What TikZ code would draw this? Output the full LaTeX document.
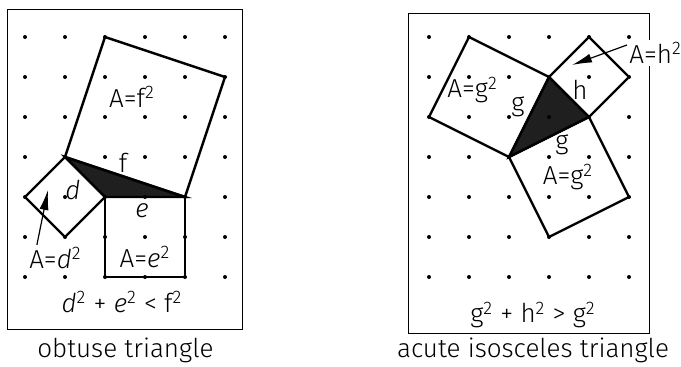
\documentclass[tikz,border=0pt]{standalone}
\usepackage{fontspec}
\setmainfont{Fira Sans Light}
\usetikzlibrary{arrows.meta}
\tikzset{
    panel/.style={
        draw=black,
        line width=0.5pt,
    },
    sqside/.style={
        draw=black,
        line width=1.2pt,
        line join=miter,
    },
    tri/.style={
        fill=black!88,
        draw=black,
        line width=1.2pt,
        line join=miter,
    },
    label/.style={
        text=black,
        font=\fontsize{13}{15}\selectfont,
        inner sep=1pt,
    },
    caption/.style={
        text=black,
        font=\fontsize{13}{15}\selectfont,
    },
    pointer/.style={
        -{Latex[length=10pt,width=4.5pt]},
        line width=0.6pt,
    },
}
\newcommand{\sq}{\textsuperscript{2}}

\begin{document}
\begin{tikzpicture}[x=20pt,y=20pt]
    \useasboundingbox (-0.625,-2.225) rectangle (16.4,6.925);

    % Left panel: obtuse triangle
    \draw[panel] (-0.425,-1.3) rectangle (5.425,6.7);
    \coordinate (a1) at (1,3);
    \coordinate (b1) at (2,2);
    \coordinate (c1) at (4,2);
    \filldraw[tri] (a1) -- (b1) -- (c1) -- cycle;
    \draw[sqside] (a1) -- (b1) -- (1,1) -- (0,2) -- cycle;
    \draw[sqside] (b1) -- (c1) -- (4,0) -- (2,0) -- cycle;
    \draw[sqside] (a1) -- (c1) -- (5,5) -- (2,6) -- cycle;
    \foreach \i in {0,...,5}
        \foreach \j in {0,...,6}
            \fill (\i,\j) circle (1pt);

    \node[label] (af) at (2.675,4.5) {A=f\sq};
    \node[label] (f) at (2.45,2.85) {f};
    \node[label] (d) at (1.2,2.175) {\textit{d}};
    \node[label] (e) at (2.925,1.65) {\textit{e}};
    \node[label] (ae) at (3.0,0.5) {A=\textit{e}\sq};
    \node[label] (ad) at (0.76,0.475) {A=\textit{d}\sq};
    \node[label] (ineq1) at (2.425,-0.625) {\textit{d}\sq{} + \textit{e}\sq{} < f\sq};
    \node[caption] (cap1) at (2.51,-1.825) {obtuse triangle};
    \coordinate (tipd) at (0.575,2.175);
    \draw[pointer] (ad.north west) ++(0.25,0) -- (tipd);

    % Right panel: acute isosceles triangle
    \begin{scope}[shift={(10.1,0)}]
        \draw[panel] (-0.525,-1.4) rectangle (5.5,6.6);
        \coordinate (p2) at (3,5);
        \coordinate (q2) at (4,4);
        \coordinate (r2) at (2,3);
        \filldraw[tri] (p2) -- (q2) -- (r2) -- cycle;
        \draw[sqside] (p2) -- (q2) -- (5,5) -- (4,6) -- cycle;
        \draw[sqside] (p2) -- (r2) -- (0,4) -- (1,6) -- cycle;
        \draw[sqside] (q2) -- (r2) -- (3,1) -- (5,2) -- cycle;
        \foreach \i in {0,...,5}
            \foreach \j in {0,...,6}
                \fill (\i,\j) circle (1pt);

        \node[label] (ag1) at (1.09,4.675) {A=g\sq};
        \node[label] (g1) at (2.225,4.25) {g};
        \node[label] (h) at (3.775,4.675) {h};
        \node[label] (g2) at (3.325,3.3) {g};
        \node[label] (ag2) at (3.475,2.5) {A=g\sq};
        \node[label, fill=white, anchor=west] (ah) at (4.95,5.6) {A=h\sq};
        \node[label] (ineq2) at (2.6,-0.95) {g\sq{} + h\sq{} > g\sq};
        \node[caption] (cap2) at (2.6,-1.825) {acute isosceles triangle};
        \coordinate (tiph) at (3.575,5.3);
        \draw[pointer] (ah.west) ++(0,0.2) -- (tiph);
    \end{scope}
\end{tikzpicture}
\end{document}
